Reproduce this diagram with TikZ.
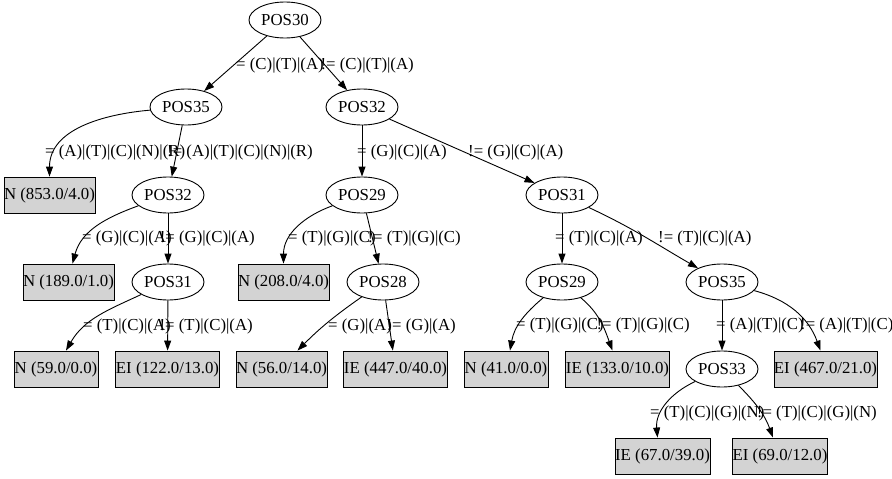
\documentclass[tikz,border=0pt]{standalone}
\usepackage{fontspec}
\setmainfont{Liberation Serif}
\usetikzlibrary{shapes.geometric,arrows.meta}
\definecolor{boxgray}{HTML}{D3D3D3}
\begin{document}
\begin{tikzpicture}[x=1pt,y=1pt,
  font=\fontsize{16.8}{19}\selectfont,
  decision/.style={ellipse, draw, line width=0.9pt, minimum width=72pt, minimum height=36pt, inner sep=0pt},
  leaf/.style={rectangle, draw, line width=0.9pt, fill=boxgray, minimum height=36pt, inner xsep=0pt, inner ysep=0pt},
  edge/.style={draw, line width=0.9pt, -{Triangle[length=10pt,width=7pt]}},
  elabel/.style={inner sep=0pt}]
\useasboundingbox (0,0) rectangle (892,-479);
% decision nodes
\node[decision] (p30) at (285,-20) {POS30};
\node[decision] (p35a) at (186,-107) {POS35};
\node[decision] (p32b) at (362,-107) {POS32};
\node[decision] (p32a) at (168,-195) {POS32};
\node[decision] (p29a) at (362,-195) {POS29};
\node[decision] (p31b) at (562,-195) {POS31};
\node[decision] (p31a) at (168,-282) {POS31};
\node[decision] (p28) at (383,-282) {POS28};
\node[decision] (p29b) at (562,-282) {POS29};
\node[decision] (p35b) at (722,-282) {POS35};
\node[decision] (p33) at (722,-369) {POS33};
% leaves
\node[leaf, minimum width=91pt] (n853) at (49.5,-195) {N (853.0/4.0)};
\node[leaf, minimum width=91pt] (n189) at (68.5,-282) {N (189.0/1.0)};
\node[leaf, minimum width=91pt] (n208) at (283.5,-282) {N (208.0/4.0)};
\node[leaf, minimum width=84pt] (n59) at (56,-369) {N (59.0/0.0)};
\node[leaf, minimum width=101pt] (ei122) at (167.5,-369) {EI (122.0/13.0)};
\node[leaf, minimum width=91pt] (n56) at (281.5,-369) {N (56.0/14.0)};
\node[leaf, minimum width=101pt] (ie447) at (395.5,-369) {IE (447.0/40.0)};
\node[leaf, minimum width=84pt] (n41) at (506,-369) {N (41.0/0.0)};
\node[leaf, minimum width=101pt] (ie133) at (617.5,-369) {IE (133.0/10.0)};
\node[leaf, minimum width=101pt] (ei467) at (825.5,-369) {EI (467.0/21.0)};
\node[leaf, minimum width=95pt] (ie67) at (662.5,-456) {IE (67.0/39.0)};
\node[leaf, minimum width=94pt] (ei69) at (780,-456) {EI (69.0/12.0)};
% edges
\draw[edge] (p30) -- (p35a);
\draw[edge] (p30) -- (p32b);
\draw[edge] (p35a) to[out=185,in=90] (n853.north);
\draw[edge] (p35a) -- (p32a);
\draw[edge] (p32b) -- (p29a);
\draw[edge] (p32b) -- (p31b);
\draw[edge] (p32a) to[out=200,in=75] ([xshift=4pt]n189.north);
\draw[edge] (p32a) -- (p31a);
\draw[edge] (p29a) to[out=200,in=90] (n208.north);
\draw[edge] (p29a) -- (p28);
\draw[edge] (p31b) -- (p29b);
\draw[edge] (p31b) to[out=-25,in=150] (p35b);
\draw[edge] (p31a) to[out=205,in=60] ([xshift=10pt]n59.north);
\draw[edge] (p31a) -- (ei122);
\draw[edge] (p28) to[out=215,in=45] ([xshift=16pt]n56.north);
\draw[edge] (p28) -- (ie447);
\draw[edge] (p29b) to[out=220,in=80] ([xshift=4pt]n41.north);
\draw[edge] (p29b) to[out=-40,in=110] ([xshift=-5pt]ie133.north);
\draw[edge] (p35b) -- (p33);
\draw[edge] (p35b) to[out=-15,in=110] ([xshift=-5pt]ei467.north);
\draw[edge] (p33) to[out=205,in=95] ([xshift=-5pt]ie67.north);
\draw[edge] (p33) to[out=-45,in=110] ([xshift=-7pt]ei69.north);
% edge labels
\node[elabel, anchor=west] (l1) at (236,-65) {= (C)|(T)|(A)};
\node[elabel, anchor=east] (l2) at (414,-65) {!= (C)|(T)|(A)};
\node[elabel, anchor=west] (l3) at (45,-152) {= (A)|(T)|(C)|(N)|(R)};
\node[elabel, anchor=east] (l4) at (313,-152) {!= (A)|(T)|(C)|(N)|(R)};
\node[elabel, anchor=west] (l5) at (357,-152) {= (G)|(C)|(A)};
\node[elabel, anchor=west] (l6) at (468,-152) {!= (G)|(C)|(A)};
\node[elabel, anchor=west] (l7) at (82,-238) {= (G)|(C)|(A)};
\node[elabel, anchor=east] (l8) at (255,-238) {!= (G)|(C)|(A)};
\node[elabel, anchor=west] (l9) at (288,-238) {= (T)|(G)|(C)};
\node[elabel, anchor=east] (l10) at (461,-238) {!= (T)|(G)|(C)};
\node[elabel, anchor=west] (l11) at (555,-238) {= (T)|(C)|(A)};
\node[elabel, anchor=west] (l12) at (658,-238) {!= (T)|(C)|(A)};
\node[elabel, anchor=west] (l13) at (83,-326) {= (T)|(C)|(A)};
\node[elabel, anchor=east] (l14) at (253,-326) {!= (T)|(C)|(A)};
\node[elabel, anchor=west] (l15) at (328,-326) {= (G)|(A)};
\node[elabel, anchor=east] (l16) at (456,-326) {!= (G)|(A)};
\node[elabel, anchor=west] (l17) at (516,-325) {= (T)|(G)|(C)};
\node[elabel, anchor=east] (l18) at (690,-325) {!= (T)|(G)|(C)};
\node[elabel, anchor=west] (l19) at (716,-325) {= (A)|(T)|(C)};
\node[elabel, anchor=west] (l20) at (800,-325) {!= (A)|(T)|(C)};
\node[elabel, anchor=west] (l21) at (650,-413) {= (T)|(C)|(G)|(N)};
\node[elabel, anchor=east] (l22) at (877,-413) {!= (T)|(C)|(G)|(N)};
\end{tikzpicture}
\end{document}
